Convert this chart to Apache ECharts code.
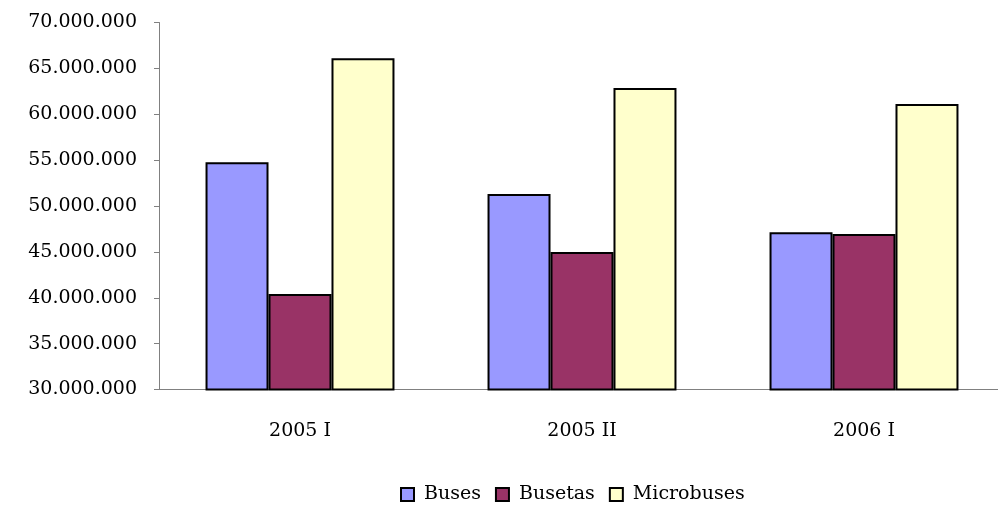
<!DOCTYPE html>
<html><head><meta charset="utf-8">
<script src="https://cdn.jsdelivr.net/npm/echarts@6/dist/echarts.min.js"></script>
<style>html,body{margin:0;padding:0;background:#fff;overflow:hidden;width:998px;height:508px}#c{width:1010px;height:508px}</style>
</head><body><div id="c"></div>
<script>
const categories = ['2005 I', '2005 II', '2006 I'];
const buses = [54760000, 51300000, 47130000];
const busetas = [40410000, 45000000, 46950000];
const microbuses = [66100000, 62860000, 61120000];
const seriesNames = ['Buses', 'Busetas', 'Microbuses'];
const colors = ['#9999FF', '#993366', '#FFFFCC'];

const font = 'DejaVu Serif';
function fmt(v){ return String(Math.round(v)).replace(/\B(?=(\d{3})+(?!\d))/g, '.'); }
const chart = echarts.init(document.getElementById('c'));
const values = [buses, busetas, microbuses];
chart.setOption({
  animation: false,
  backgroundColor: '#fff',
  grid: { left: 159, width: 846, top: 22.5, height: 367, containLabel: false },
  legend: {
    top: 485, left: 400, padding: 0,
    itemWidth: 13, itemHeight: 13, itemGap: 14,
    textStyle: { fontFamily: font, fontSize: 19, color: '#000', padding: [0, 0, 0, 5] },
    data: seriesNames.map(n => ({ name: n, icon: 'rect' }))
  },
  xAxis: {
    type: 'category', data: categories,
    axisLine: { lineStyle: { color: '#808080', width: 1 } },
    axisTick: { length: 6, lineStyle: { color: '#808080' } },
    axisLabel: { fontFamily: font, fontSize: 19, color: '#000', margin: 32 }
  },
  yAxis: {
    type: 'value', min: 30000000, max: 70000000, interval: 5000000,
    axisLine: { show: true, lineStyle: { color: '#808080', width: 1 } },
    axisTick: { show: true, length: 5, lineStyle: { color: '#808080' } },
    splitLine: { show: false },
    axisLabel: { fontFamily: font, fontSize: 19, color: '#000', margin: 22, formatter: fmt }
  },
  series: seriesNames.map((n, i) => ({
    name: n, type: 'bar', data: values[i],
    barGap: '0%', barCategoryGap: '33%',
    itemStyle: { color: colors[i], borderColor: '#000', borderWidth: 2 }
  }))
});
</script></body></html>
